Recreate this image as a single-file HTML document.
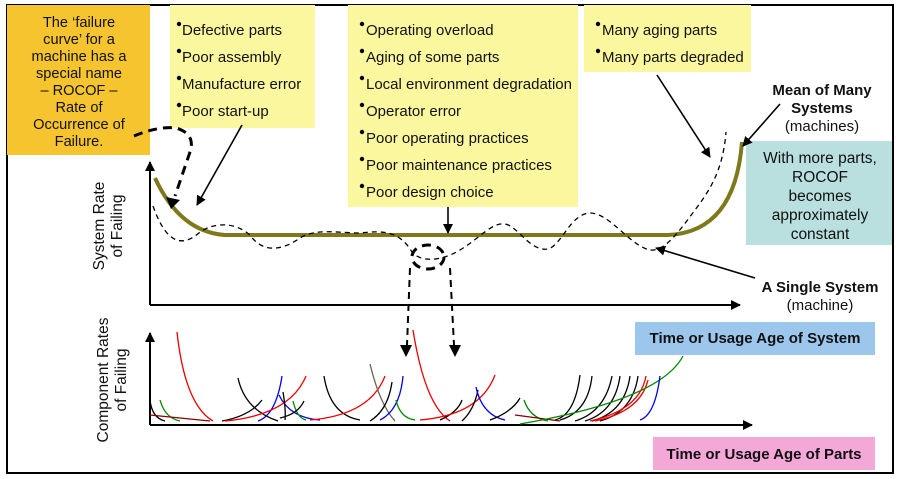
<!DOCTYPE html>
<html><head><meta charset="utf-8"><style>
body{margin:0;background:#fff}
svg{display:block}
text{font-family:"Liberation Sans",Arial,sans-serif;fill:#111}
</style></head><body>
<svg width="900" height="479" viewBox="0 0 900 479" xmlns="http://www.w3.org/2000/svg">
<defs>
<marker id="ah" markerWidth="10" markerHeight="10" refX="9" refY="5" orient="auto" markerUnits="userSpaceOnUse"><path d="M0,0 L10,5 L0,10 Z" fill="#000"/></marker>
</defs>
<rect x="7" y="5" width="886" height="468" fill="#fff" stroke="#000" stroke-width="2"/>
<rect x="7" y="5" width="143" height="150" fill="#F6C42E"/>
<rect x="170" y="5" width="145" height="123" fill="#FBF79E"/>
<rect x="348" y="5" width="230" height="202" fill="#FBF79E"/>
<rect x="584" y="5" width="167" height="67" fill="#FBF79E"/>
<rect x="746" y="141" width="146" height="104" fill="#B9DFDF"/>
<rect x="635" y="322" width="240" height="33" fill="#9DC6EC"/>
<rect x="653" y="437" width="222" height="33" fill="#F4A8D8"/>
<g font-size="14.6" text-anchor="middle">
<text x="79" y="27">The ‘failure</text><text x="79" y="44">curve’ for a</text><text x="79" y="61">machine has a</text><text x="79" y="78">special name</text><text x="79" y="95">– ROCOF –</text><text x="79" y="112">Rate of</text><text x="79" y="129">Occurrence of</text><text x="79" y="146">Failure.</text>
<text x="820" y="163" font-size="15.5">With more parts,</text><text x="820" y="182" font-size="15.5">ROCOF</text><text x="820" y="201" font-size="15.5">becomes</text><text x="820" y="220" font-size="15.5">approximately</text><text x="820" y="239" font-size="15.5">constant</text>
<text x="822" y="95" font-weight="bold" font-size="15">Mean of Many</text><text x="822" y="113" font-weight="bold" font-size="15">Systems</text><text x="822" y="131" font-size="15">(machines)</text>
<text x="820" y="292" font-weight="bold" font-size="15">A Single System</text><text x="820" y="310" font-size="15">(machine)</text>
<text x="755" y="343" font-weight="bold" font-size="15">Time or Usage Age of System</text>
<text x="764" y="459" font-weight="bold" font-size="15">Time or Usage Age of Parts</text>
</g>
<g font-size="15">
<text x="182" y="35">Defective parts</text><text x="182" y="62">Poor assembly</text><text x="182" y="89">Manufacture error</text><text x="182" y="116">Poor start-up</text>
<text x="366" y="35">Operating overload</text><text x="366" y="62">Aging of some parts</text><text x="366" y="89">Local environment degradation</text><text x="366" y="116">Operator error</text><text x="366" y="143">Poor operating practices</text><text x="366" y="170">Poor maintenance practices</text><text x="366" y="197">Poor design choice</text>
<text x="602" y="35">Many aging parts</text><text x="602" y="62">Many parts degraded</text>
</g>
<g fill="#000">
<circle cx="179" cy="24" r="2.2"/><circle cx="179" cy="51" r="2.2"/><circle cx="179" cy="78" r="2.2"/><circle cx="179" cy="105" r="2.2"/>
<circle cx="362" cy="24" r="2.2"/><circle cx="362" cy="51" r="2.2"/><circle cx="362" cy="78" r="2.2"/><circle cx="362" cy="105" r="2.2"/><circle cx="362" cy="132" r="2.2"/><circle cx="362" cy="159" r="2.2"/><circle cx="362" cy="186" r="2.2"/>
<circle cx="598" cy="24" r="2.2"/><circle cx="598" cy="51" r="2.2"/>
</g>
<g font-size="15.5" text-anchor="middle">
<text transform="translate(104,226) rotate(-90)">System Rate</text>
<text transform="translate(122,226) rotate(-90)">of Failing</text>
<text transform="translate(108,380) rotate(-90)">Component Rates</text>
<text transform="translate(126,380) rotate(-90)">of Failing</text>
</g>
<g stroke="#000" stroke-width="2" fill="none">
<line x1="150" y1="305" x2="150" y2="162" marker-end="url(#ah)"/>
<line x1="150" y1="305" x2="740" y2="305" marker-end="url(#ah)"/>
<line x1="150" y1="425" x2="150" y2="333" marker-end="url(#ah)"/>
<line x1="150" y1="425" x2="752" y2="425" marker-end="url(#ah)"/>
</g>
<path d="M155,178 Q180,232 225,235 L668,235 Q735,232 742,142" stroke="#7E7A1C" stroke-width="4" fill="none"/>
<path d="M153,206 C165,240 180,250 200,232 C215,222 235,222 250,235 C262,252 280,252 300,238 C315,228 340,233 360,233 C385,230 400,232 412,252 C420,262 440,262 460,250 C480,238 492,222 505,224 C518,226 530,252 548,249 C562,245 570,214 590,213 C610,213 630,246 650,250 C665,252 680,230 695,210 C710,190 723,170 726,132" stroke="#000" stroke-width="1.3" stroke-dasharray="5,4" fill="none"/>
<g stroke="#000" stroke-width="1.6" fill="none">
<line x1="242" y1="125" x2="197" y2="205" marker-end="url(#ah)"/>
<line x1="448" y1="207" x2="448" y2="233" marker-end="url(#ah)"/>
<line x1="657" y1="75" x2="710" y2="157" marker-end="url(#ah)"/>
<line x1="780" y1="104" x2="743" y2="146" marker-end="url(#ah)"/>
<line x1="755" y1="278" x2="656" y2="248" marker-end="url(#ah)"/>
</g>
<g stroke="#000" stroke-width="3" fill="none" stroke-dasharray="9,6">
<path d="M134,136 Q158,126 176,128 Q196,134 190,152 L175,196"/>
<ellipse cx="428" cy="257" rx="16" ry="12"/>
</g>
<polygon points="166,197 180,200 171,209" fill="#000"/>
<g stroke="#000" stroke-width="2" fill="none" stroke-dasharray="7,5">
<line x1="410" y1="268" x2="407" y2="345"/><line x1="450" y1="268" x2="454" y2="345"/>
</g>
<polygon points="400,345 412,345 406,357" fill="#000"/><polygon points="449,345 461,345 455,357" fill="#000"/>
<g fill="none" stroke-width="1.3">
<path d="M177,332 Q185,405 213,421" stroke="#e00"/>
<path d="M150,400 Q152,418 165,421" stroke="#000"/>
<path d="M160,400 Q165,418 180,421" stroke="#080"/>
<path d="M150,415 L210,421" stroke="#800"/>
<path d="M238,378 Q245,410 278,421" stroke="#000"/>
<path d="M222,421 Q250,416 262,400" stroke="#000"/>
<path d="M258,421 Q276,415 282,376" stroke="#00e"/>
<path d="M279,395 Q290,418 320,420" stroke="#00e"/>
<path d="M225,421 Q290,415 306,376" stroke="#e00"/>
<path d="M283,392 Q286,410 285,420" stroke="#000"/>
<path d="M293,401 Q297,418 306,420" stroke="#080"/>
<path d="M280,418 Q298,414 304,401" stroke="#000"/>
<path d="M324,376 Q330,415 360,420" stroke="#000"/>
<path d="M310,420 Q370,415 385,376" stroke="#e00"/>
<path d="M370,364 Q380,405 395,421" stroke="#665"/>
<path d="M370,421 Q388,410 392,382" stroke="#000"/>
<path d="M380,420 Q400,410 403,376" stroke="#00e"/>
<path d="M396,400 Q400,418 415,420" stroke="#080"/>
<path d="M413,330 Q425,405 450,421" stroke="#e00"/>
<path d="M440,420 Q458,412 462,400" stroke="#000"/>
<path d="M420,420 Q480,415 495,375" stroke="#e00"/>
<path d="M462,421 Q474,410 478,390" stroke="#000"/>
<path d="M476,387 Q482,415 505,420" stroke="#00e"/>
<path d="M490,420 Q512,412 520,398" stroke="#000"/>
<path d="M524,400 Q530,418 548,421" stroke="#080"/>
<path d="M515,415 L560,421" stroke="#800"/>
<path d="M555,420 Q575,415 580,375" stroke="#000"/>
<path d="M560,420 Q588,412 592,376" stroke="#000"/>
<path d="M575,421 Q605,412 612,376" stroke="#000"/>
<path d="M585,421 Q615,412 620,376" stroke="#000"/>
<path d="M592,421 Q625,412 630,376" stroke="#000"/>
<path d="M600,421 Q633,412 638,376" stroke="#000"/>
<path d="M590,421 Q640,410 646,376" stroke="#e00"/>
<path d="M595,421 Q640,412 648,380" stroke="#e00"/>
<path d="M520,424 Q660,400 683,356" stroke="#080"/>
<path d="M640,420 Q655,415 660,376" stroke="#00e"/>
</g>
</svg>
</body></html>
